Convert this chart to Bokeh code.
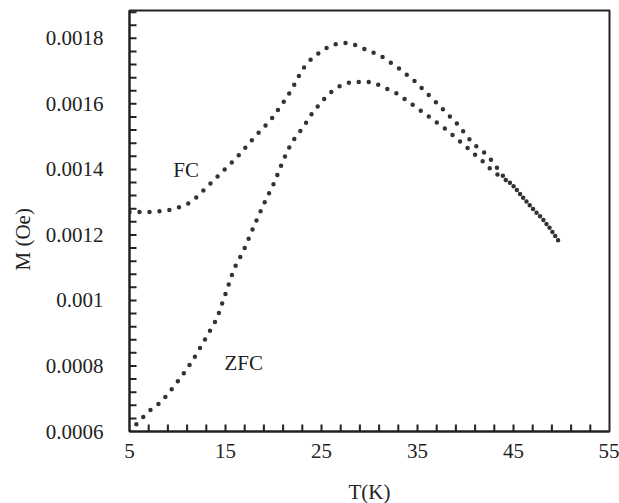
from bokeh.plotting import figure
from bokeh.models import Range1d, FixedTicker, Label, ColumnDataSource, Title
from bokeh.embed import file_html
from bokeh.resources import INLINE

# ---- data ----
fc_T = [5, 7.2, 9.0, 10.0, 11.0, 12.0, 14.5, 16.2, 18.0, 19.7, 21.4, 22.1, 23.0, 24.0,
        25.1, 26.0, 27.0, 28.1, 29.1, 31.1, 32.9, 34.6, 37.1, 38.1, 39.1, 40.8, 42.3,
        43.1, 44.0, 45.1, 46.1, 47.0, 48.0, 48.8, 49.9]
fc_M = [0.00127, 0.00127, 0.001275, 0.001283, 0.001293, 0.001315, 0.001388, 0.001437,
        0.001498, 0.00155, 0.00162, 0.001655, 0.001705, 0.001739, 0.001763, 0.001779,
        0.001786, 0.001785, 0.001772, 0.001748, 0.001712, 0.001672, 0.0016, 0.00157,
        0.00154, 0.001478, 0.001443, 0.001412, 0.001376, 0.001346, 0.00131, 0.00128,
        0.00125, 0.00122, 0.001173]

zfc_T = [5.0, 6.9, 8.3, 9.7, 11.0, 12.0, 13.1, 14.1, 15.0, 15.9, 16.9, 18.0, 19.0, 20.1,
         21.0, 21.9, 23.1, 24.0, 25.1, 26.0, 27.0, 28.1, 29.1, 30.1, 31.1, 32.9, 34.6,
         36.0, 38.1, 40.1, 41.9, 42.9, 44.0, 45.1, 46.1, 47.0, 48.0, 48.8, 49.9]
zfc_M = [0.0006, 0.000659, 0.00069, 0.00074, 0.000791, 0.000837, 0.000893, 0.000944,
         0.00102, 0.001097, 0.001153, 0.001229, 0.001295, 0.001361, 0.001427, 0.001483,
         0.001529, 0.00157, 0.00161, 0.001636, 0.001656, 0.001667, 0.001667, 0.001667,
         0.001656, 0.001631, 0.001595, 0.001565, 0.001519, 0.001468, 0.001422, 0.001392,
         0.001372, 0.001346, 0.00131, 0.00128, 0.00125, 0.00122, 0.001173]

x_major = [5, 15, 25, 35, 45, 55]
y_major = [0.0006, 0.0008, 0.001, 0.0012, 0.0014, 0.0016, 0.0018]
y_labels = {0.0006: "0.0006", 0.0008: "0.0008", 0.001: "0.001", 0.0012: "0.0012",
            0.0014: "0.0014", 0.0016: "0.0016", 0.0018: "0.0018"}
X0, X1 = 5, 55
Y0, Y1 = 0.0006, 0.001885

FONT = "Liberation Serif"
INK = "#222222"
FS = "21px"
FRAME_W, FRAME_H = 480, 421

p = figure(width=619, height=501, frame_width=FRAME_W, frame_height=FRAME_H,
           min_border_left=129, min_border_right=10, min_border_top=10, min_border_bottom=70,
           x_range=Range1d(X0, X1), y_range=Range1d(Y0, Y1),
           output_backend="svg", toolbar_location=None)
p.background_fill_color = "white"
p.border_fill_color = "white"
p.grid.visible = False
p.outline_line_color = INK
p.outline_line_width = 2

p.xaxis.ticker = FixedTicker(ticks=x_major)
p.yaxis.ticker = FixedTicker(ticks=y_major)
p.yaxis.major_label_overrides = y_labels

for ax in (p.xaxis[0], p.yaxis[0]):
    ax.axis_line_color = INK
    ax.axis_line_width = 2
    ax.major_tick_in = 0
    ax.major_tick_out = 0
    ax.minor_tick_line_color = None
    ax.major_label_text_font = FONT
    ax.major_label_text_font_size = FS
    ax.major_label_text_color = INK

p.xaxis.major_label_standoff = 12
p.yaxis.major_label_standoff = 26
p.xaxis.axis_label = "T(K)"
p.xaxis.axis_label_text_font = FONT
p.xaxis.axis_label_text_font_size = FS
p.xaxis.axis_label_text_font_style = "normal"
p.xaxis.axis_label_text_color = INK
p.xaxis.axis_label_standoff = 19

# inward tick marks (every 2 K and every 0.00004): small filled bars ~7x2 px
x_ticks = [X0 + 2 * k for k in range(1, 25)]
y_ticks = [Y0 + k * 0.00004 for k in range(1, 33)]
px_x = (X1 - X0) / FRAME_W
px_y = (Y1 - Y0) / FRAME_H
p.quad(left=[t - 1.0 * px_x for t in x_ticks], right=[t + 1.0 * px_x for t in x_ticks],
       bottom=[Y0] * len(x_ticks), top=[Y0 + 7 * px_y] * len(x_ticks),
       fill_color=INK, line_color=None)
p.quad(left=[X0] * len(y_ticks), right=[X0 + 7 * px_x] * len(y_ticks),
       bottom=[t - 1.0 * px_y for t in y_ticks], top=[t + 1.0 * px_y for t in y_ticks],
       fill_color=INK, line_color=None)

src_fc = ColumnDataSource(dict(T=fc_T, M=fc_M))
src_zfc = ColumnDataSource(dict(T=zfc_T, M=zfc_M))
for src in (src_zfc, src_fc):
    p.line("T", "M", source=src, line_color="#333333", line_width=4.5,
           line_dash="0 10", line_cap="round")

p.add_layout(Label(x=10.9, y=0.001397, text="FC", text_font=FONT,
                   text_font_size=FS, text_color=INK, text_align="center",
                   text_baseline="middle"))
p.add_layout(Label(x=16.9, y=0.00081, text="ZFC", text_font=FONT,
                   text_font_size=FS, text_color=INK, text_align="center",
                   text_baseline="middle"))
p.add_layout(Title(text="M (Oe)", align="left", offset=161, standoff=16,
                   text_line_height=1.0,
                   text_font=FONT, text_font_size=FS, text_font_style="normal",
                   text_color=INK), "left")

open("out.html", "w").write(file_html(p, INLINE))
